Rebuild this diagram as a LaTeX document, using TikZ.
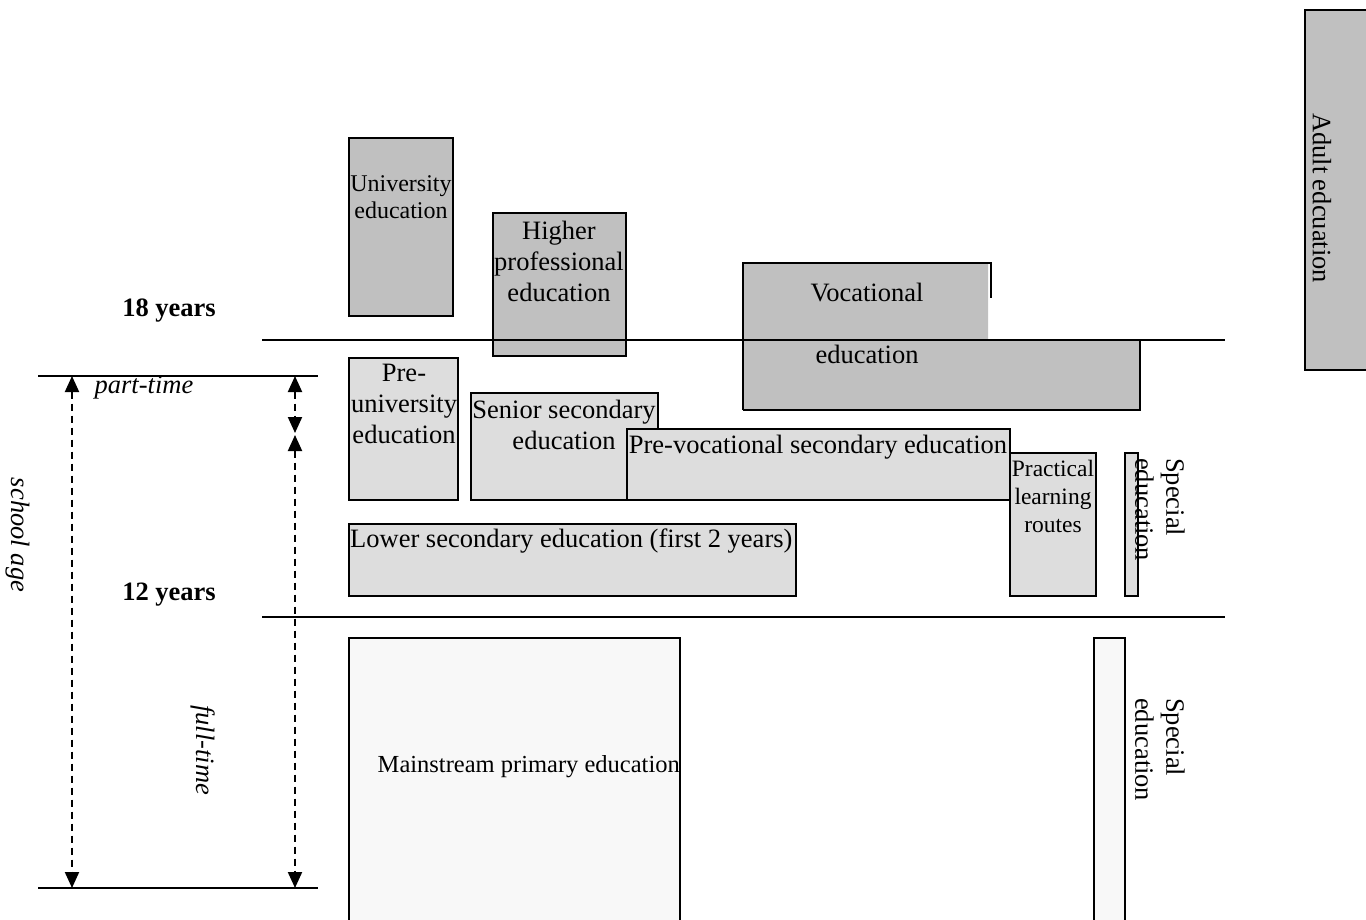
\documentclass[tikz,border=0pt]{standalone}
\usepackage{fontspec}
\setmainfont{Liberation Serif}
\usetikzlibrary{arrows.meta}
\definecolor{dkgray}{HTML}{C0C0C0}
\definecolor{ltgray}{HTML}{DDDDDD}
\definecolor{vlgray}{HTML}{F8F8F8}
\begin{document}
\begin{tikzpicture}[x=1pt,y=-1pt,
  every node/.style={inner sep=0pt, font=\fontsize{26.5}{31}\selectfont},
  dkbox/.style={fill=dkgray, draw=black, line width=1.8pt},
  ltbox/.style={fill=ltgray, draw=black, line width=1.8pt},
  vlbox/.style={fill=vlgray, draw=black, line width=1.8pt},
  rule/.style={line width=2pt},
  dim/.style={line width=2pt, dash pattern=on 7pt off 5pt, {Triangle[width=14pt,length=16pt]}-{Triangle[width=14pt,length=16pt]}},
  smalltxt/.style={font=\fontsize{23.5}{28}\selectfont},
  unitxt/.style={font=\fontsize{24}{27}\selectfont}
]
\useasboundingbox (0,0) rectangle (1366,919);
\clip (0,0) rectangle (1366,919);

% boxes
\draw[dkbox] (349,138) rectangle (453,316);
\draw[dkbox] (493,213) rectangle (626,356);
% vocational
\fill[dkgray] (743,263) -- (988,263) -- (988,340) -- (1140,340) -- (1140,410) -- (743,410) -- cycle;
\draw[line width=1.8pt] (743,410) -- (743,263) -- (991,263) -- (991,298);
\draw[line width=1.8pt] (743,410) -- (1140,410) -- (1140,340);
% adult
\draw[dkbox] (1305,10) rectangle (1375,370);

\draw[ltbox] (349,358) rectangle (458,500);
\draw[ltbox] (471,393) rectangle (658,500);
\draw[ltbox] (627,429) rectangle (1010,500);
\draw[ltbox] (1010,453) rectangle (1096,596);
\draw[ltbox] (1125,453) rectangle (1138,596);
\draw[ltbox] (349,524) rectangle (796,596);

\draw[vlbox] (349,638) rectangle (680,930);
\draw[vlbox] (1094,638) rectangle (1125,930);

% horizontal rules
\coordinate (h18a) at (262,340);
\coordinate (h18b) at (1225,340);
\coordinate (h12a) at (262,617);
\coordinate (h12b) at (1225,617);
\coordinate (tpa) at (38,376);
\coordinate (tpb) at (318,376);
\coordinate (bta) at (38,888);
\coordinate (btb) at (318,888);
\draw[rule] (h18a) -- (h18b);
\draw[rule] (h12a) -- (h12b);
\draw[rule] (tpa) -- (tpb);
\draw[rule] (bta) -- (btb);

% dimension arrows
\coordinate (la) at (72,376);
\coordinate (lb) at (72,888);
\coordinate (ra) at (295,376);
\coordinate (rm1) at (295,433);
\coordinate (rm2) at (295,435);
\coordinate (rb) at (295,888);
\draw[dim] (la) -- (lb);
\draw[dim] (ra) -- (rm1);
\draw[dim] (rm2) -- (rb);

% texts
\node[unitxt, align=center] (univ) at (401,197) {University\\education};
\node[align=center] (hpe) at (559,261) {Higher\\professional\\education};
\node (voc1) at (867,293) {Vocational};
\node (voc2) at (867,354) {education};
\node[align=center] (preuni) at (404,404) {Pre-\\university\\education};
\node[align=center] (senior) at (564,425) {Senior secondary\\education};
\node (prevoc) at (818,447) {Pre-vocational secondary education};
\node[smalltxt, align=center] (plr) at (1053,496) {Practical\\learning\\routes};
\node[rotate=-90, anchor=north west, align=left] (spec1) at (1185,458) {Special\\education};
\node[anchor=west] (lowsec) at (350,541) {Lower secondary education (first 2 years)};
\node[anchor=east, font=\fontsize{24.5}{31}\selectfont] (mainprim) at (680,767) {Mainstream primary education};
\node[rotate=-90, anchor=north west, align=left] (spec2) at (1185,698) {Special\\education};
\node[rotate=-90] (adult) at (1322,198) {Adult edcuation};

\node[font=\fontsize{26.5}{31}\selectfont\bfseries] (y18) at (169,311) {18 years};
\node[font=\fontsize{26.5}{31}\selectfont\bfseries] (y12) at (169,595) {12 years};
\node[font=\fontsize{26.5}{31}\selectfont\itshape] (pt) at (144,388) {part-time};
\node[rotate=-90, font=\fontsize{26.5}{31}\selectfont\itshape] (sa) at (18,535) {school age};
\node[rotate=-90, font=\fontsize{26.5}{31}\selectfont\itshape] (ft) at (203,750) {full-time};
\end{tikzpicture}
\end{document}
